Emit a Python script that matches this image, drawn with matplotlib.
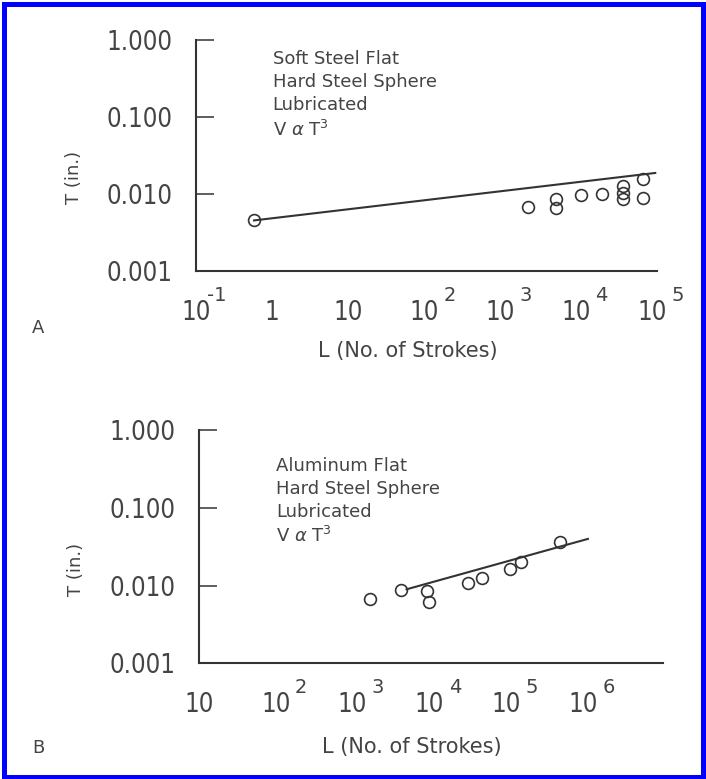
import matplotlib
matplotlib.use("Agg")
import matplotlib.pyplot as plt
from matplotlib import font_manager
from matplotlib.ticker import FixedLocator, NullFormatter
from matplotlib.patches import Rectangle

# panel A : soft steel flat
a_L = [0.58, 2350, 5450, 5450, 11500, 22200, 41100, 41100, 41100, 75500, 75500]
a_T = [0.0045, 0.00665, 0.00845, 0.00646, 0.0096, 0.0098, 0.0126, 0.0101, 0.00845, 0.0155, 0.0087]
a_fit_L = [0.58, 1.1e5]
a_fit_T = [0.0045, 0.0186]
a_ticks = [0.1, 1, 10, 100, 1e3, 1e4, 1e5]
a_base = ['10', '1', '10', '10', '10', '10', '10']
a_exp = ['-1', '', '', '2', '3', '4', '5']
a_note = "Soft Steel Flat\nHard Steel Sphere\nLubricated\nV $\\alpha$ T$^3$"

# panel B : aluminum flat
b_L = [1690, 4220, 9360, 9930, 32000, 48200, 111000, 158000, 502000]
b_T = [0.00673, 0.0087, 0.0085, 0.00615, 0.0109, 0.0125, 0.0164, 0.0201, 0.0367]
b_fit_L = [5060, 1.16e6]
b_fit_T = [0.00895, 0.0398]
b_ticks = [10, 1e2, 1e3, 1e4, 1e5, 1e6]
b_base = ['10', '10', '10', '10', '10', '10']
b_exp = ['', '2', '3', '4', '5', '6']
b_note = "Aluminum Flat\nHard Steel Sphere\nLubricated\nV $\\alpha$ T$^3$"

y_ticks = [0.001, 0.01, 0.1, 1.0]
y_labels = ['0.001', '0.010', '0.100', '1.000']

# pick a narrow face for the numbers if there is one
names = set((f.name, f.stretch) for f in font_manager.fontManager.ttflist)
if any(n == 'Liberation Sans Narrow' for n, s in names):
	num_font = dict(family='Liberation Sans Narrow', size=21)
	sup_size = 15
elif ('DejaVu Sans', 'condensed') in names:
	num_font = dict(family='DejaVu Sans', stretch='condensed', size=18.5)
	sup_size = 14
else:
	num_font = dict(family='DejaVu Sans', size=16)
	sup_size = 12

ink = '#333333'
txt = '#444444'


def panel(ax, L, T, fit_L, fit_T, ticks, base, exp, xlim, note, note_y, xlab_y):
	ax.set_xscale('log')
	ax.set_yscale('log')
	ax.set_xlim(xlim)
	ax.set_ylim(0.001, 1.0)
	for s in ['top', 'right']:
		ax.spines[s].set_visible(False)
	for s in ['left', 'bottom']:
		ax.spines[s].set_color(ink)
		ax.spines[s].set_linewidth(1.5)

	ax.plot(fit_L, fit_T, color=ink, lw=1.5)
	ax.plot(L, T, 'o', ms=8.5, mfc='none', mec=ink, mew=1.2, clip_on=False)

	# decade labels (no marks), inner marks as minor ticks
	ax.xaxis.set_major_locator(FixedLocator(ticks))
	ax.set_xticklabels(base, color=txt, **num_font)
	ax.tick_params(axis='x', which='major', length=0, pad=21)
	ax.xaxis.set_minor_locator(FixedLocator(ticks[1:-1] if xlim[1] < 2e5 else ticks[1:]))
	ax.xaxis.set_minor_formatter(NullFormatter())
	ax.tick_params(axis='x', which='minor', direction='in', length=13, width=1.1, color=ink)
	for t, e in zip(ticks, exp):
		if e:
			dx = 8 if e.startswith('-') else 14
			ax.annotate(e, xy=(t, 0), xycoords=ax.get_xaxis_transform(), xytext=(dx, -17.5),
				textcoords='offset points', ha='left', va='center', color=txt,
				family=num_font['family'], size=sup_size)

	ax.yaxis.set_major_locator(FixedLocator(y_ticks))
	ax.yaxis.set_minor_locator(FixedLocator([]))
	ax.set_yticklabels(y_labels, color=txt, **num_font)
	ax.tick_params(axis='y', which='major', direction='in', length=13, width=1.1, color=ink, pad=17)

	ax.set_xlabel('L (No. of Strokes)', fontsize=15, color=txt)
	ax.set_ylabel('T (in.)', fontsize=13, color=txt)
	ax.xaxis.set_label_coords(0.46, xlab_y)
	ax.yaxis.set_label_coords(-0.245, 0.404)

	ax.text(0.166, note_y, note, transform=ax.transAxes, fontsize=13, color=txt,
		va='top', ha='left', linespacing=1.35)


fig = plt.figure(figsize=(7.06, 7.79), dpi=100)

axA = fig.add_axes([0.2776, 0.6525, 0.653, 0.2965])
panel(axA, a_L, a_T, a_fit_L, a_fit_T, a_ticks, a_base, a_exp, (0.1, 1.16e5), a_note, 0.955, -0.305)

axB = fig.add_axes([0.2816, 0.1485, 0.657, 0.2995])
panel(axB, b_L, b_T, b_fit_L, b_fit_T, b_ticks, b_base, b_exp, (10, 1.09e7), b_note, 0.885, -0.315)

fig.text(38 / 706, 1 - 328 / 779, 'A', fontsize=13, color=txt, ha='center', va='center')
fig.text(38 / 706, 1 - 748 / 779, 'B', fontsize=13, color=txt, ha='center', va='center')

# blue frame round the whole picture
fig.patches.append(Rectangle((3.5 / 706, 2.5 / 779), 699 / 706, 773 / 779, transform=fig.transFigure,
	fill=False, edgecolor='#0000ff', linewidth=3.6))

fig.savefig('out.png', dpi=100)
